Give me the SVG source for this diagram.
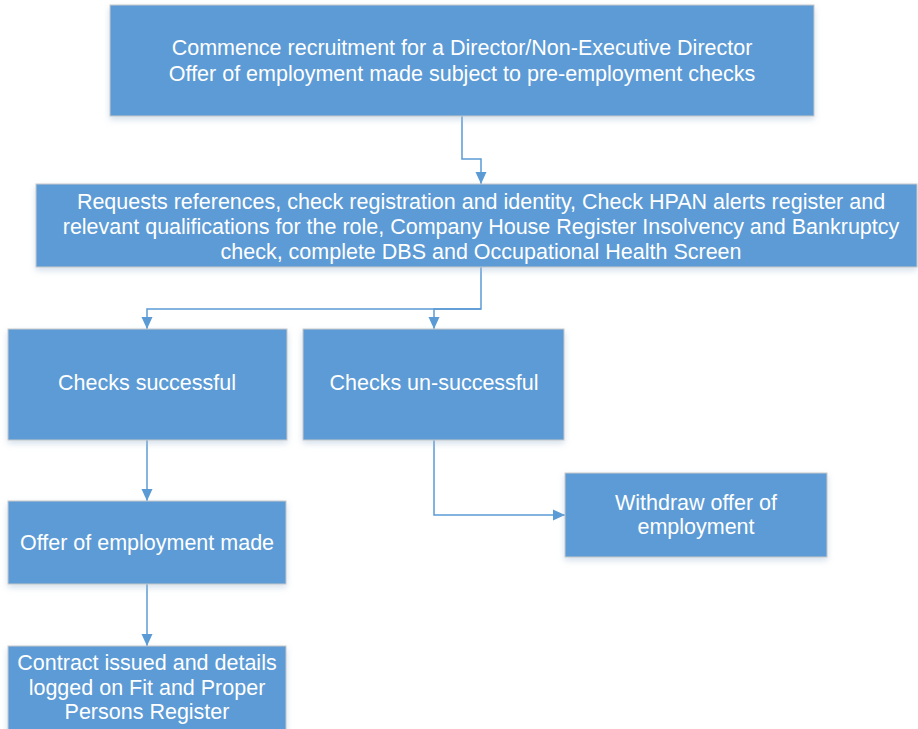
<svg xmlns="http://www.w3.org/2000/svg" width="918" height="729" viewBox="0 0 918 729">
  <defs>
    <filter id="shadow" x="-5%" y="-10%" width="110%" height="130%">
      <feDropShadow dx="0" dy="3" stdDeviation="3" flood-color="#9fb8d0" flood-opacity="0.45"/>
    </filter>
    <marker id="arrow" viewBox="0 0 12 12" refX="12" refY="6" markerWidth="12" markerHeight="12" markerUnits="userSpaceOnUse" orient="auto">
      <path d="M0,0.5 L12,6 L0,11.5 Z" fill="#5b9bd5"/>
    </marker>
  </defs>
  <style>
    .box { fill: #5b9bd5; stroke: #c9c9c9; stroke-width: 1; filter: url(#shadow); }
    .label { fill: #ffffff; font-family: "Liberation Sans", Arial, sans-serif; font-size: 21.5px; text-anchor: middle; }
    .conn { fill: none; stroke: #5b9bd5; stroke-width: 1.5; marker-end: url(#arrow); }
  </style>
  <rect width="918" height="729" fill="#ffffff"/>

  <g id="connectors">
    <path class="conn" d="M462,116 V159 H481 V184"/>
    <path class="conn" d="M481,267 V309 H147 V329"/>
    <path class="conn" d="M481,309 H434 V329"/>
    <path class="conn" d="M147,440 V501"/>
    <path class="conn" d="M147,584 V646"/>
    <path class="conn" d="M434,440 V515 H565"/>
  </g>

  <g id="commence">
    <rect class="box" x="110" y="5" width="704" height="111"/>
    <text class="label" x="462" y="55">Commence recruitment for a Director/Non-Executive Director</text>
    <text class="label" x="462" y="81">Offer of employment made subject to pre-employment checks</text>
  </g>

  <g id="checks">
    <rect class="box" x="36" y="184" width="881" height="83"/>
    <text class="label" x="481" y="209">Requests references, check registration and identity, Check HPAN alerts register and</text>
    <text class="label" x="481" y="234">relevant qualifications for the role, Company House Register Insolvency and Bankruptcy</text>
    <text class="label" x="481" y="259">check, complete DBS and Occupational Health Screen</text>
  </g>

  <g id="checks-successful">
    <rect class="box" x="8" y="329" width="279" height="111"/>
    <text class="label" x="147" y="390">Checks successful</text>
  </g>

  <g id="checks-unsuccessful">
    <rect class="box" x="303" y="329" width="261" height="111"/>
    <text class="label" x="434" y="390">Checks un-successful</text>
  </g>

  <g id="offer-made">
    <rect class="box" x="8" y="501" width="278" height="83"/>
    <text class="label" x="147" y="550">Offer of employment made</text>
  </g>

  <g id="withdraw">
    <rect class="box" x="565" y="473" width="262" height="84"/>
    <text class="label" x="696" y="510">Withdraw offer of</text>
    <text class="label" x="696" y="534">employment</text>
  </g>

  <g id="contract">
    <rect class="box" x="8" y="646" width="278" height="90"/>
    <text class="label" x="147" y="670">Contract issued and details</text>
    <text class="label" x="147" y="695">logged on Fit and Proper</text>
    <text class="label" x="147" y="719">Persons Register</text>
  </g>
</svg>
